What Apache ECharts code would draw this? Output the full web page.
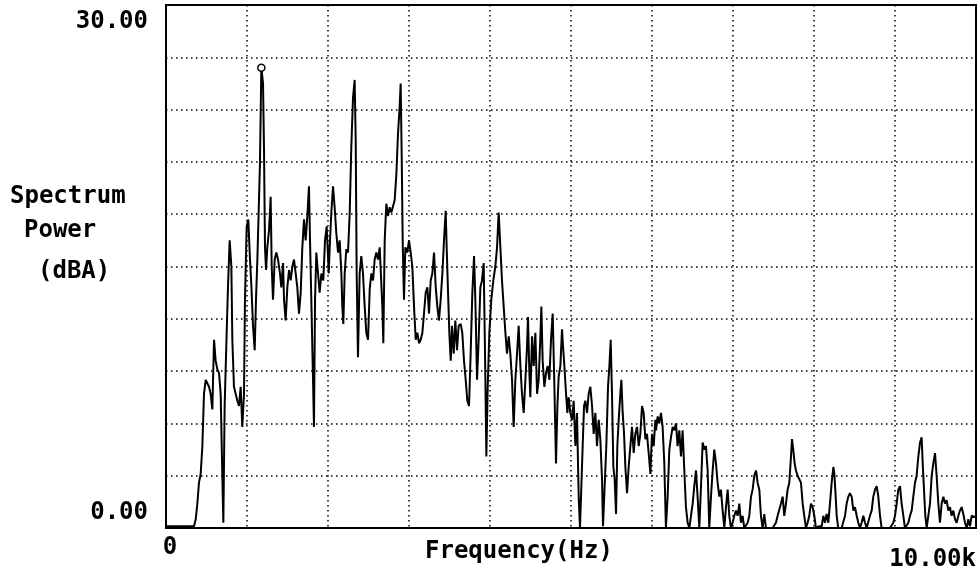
<!DOCTYPE html>
<html>
<head>
<meta charset="utf-8">
<script src="https://cdn.jsdelivr.net/npm/echarts@6/dist/echarts.min.js"></script>
<style>
html,body{margin:0;padding:0;background:#fff;}
#chart{width:978px;height:571px;}
</style>
</head>
<body>
<div id="chart"></div>
<script>
// Frequency (Hz) of each traced point
const freqHz = [
0,346,367,387,407,428,449,469,490,510,531,551,572,593,613,634,654,675,695,708,724,749,765,786,807,819,839,860,881,901,922,942,963,975,996,1016,1037,1053,1074,1095,1111,1128,1148,1160,1177,1198,1210,1222,1235,1251,1272,1292,1305,1321,1342,1362,1383,1407,1424,1445,1457,1477,1498,1519,1539,1560,1580,1601,1621,1642,1663,1683,1704,1724,1745,1765,1778,1794,1815,1827,1840,1856,1877,1897,1918,1942,1963,1984,2009,
2021,2041,2062,2082,2103,2124,2144,2165,2177,2189,2206,2226,2247,2268,2288,2309,2329,2342,2354,2370,2391,2411,2432,2453,2473,2494,2515,2535,2556,2576,2597,2617,2638,2658,2671,2683,2700,2720,2741,2761,2782,2803,2823,2844,2864,2885,2897,2910,2922,2938,2955,2979,3000,3021,3041,3062,3083,3103,3124,3144,3165,3185,3206,3227,3247,3268,3288,3309,3330,3350,3370,3391,3412,3432,3453,3465,3482,3498,3515,3531,3552,3572,3593,3613,3638,3658,3679,3700,3720,3741,3761,3782,3803,3819,3840,3860,3881,3901,3922,3942,3955,3972,3992,4016,4041,
4066,4087,4107,4128,4148,4169,4190,4210,4231,4251,4272,4292,4313,4334,4354,4375,4395,4416,4437,4457,4469,4486,4498,4519,4539,4560,4581,4601,4622,4634,4650,4671,4692,4712,4733,4753,4774,4795,4815,4832,4848,4869,4889,4902,4918,4939,4955,4971,4992,5013,5033,5054,5074,5095,5111,5128,5144,5161,5177,5198,5218,5239,5260,5280,5301,5321,5342,5362,5383,5395,5416,5436,5457,5474,5490,5506,5523,5539,5556,5572,5589,5609,5622,5638,5655,5671,5692,5712,5733,5753,5774,5794,5815,5836,5856,5877,5897,5918,5938,5959,5980,6000,6021,6041,
6049,6070,6090,6111,6131,6152,6172,6193,6214,6234,6255,6275,6296,6316,6337,6358,6378,6399,6419,6440,6461,6481,6502,6522,6543,6563,6584,6605,6625,6646,6666,6687,6707,6728,6749,6769,6790,6810,6831,6851,6872,6893,6913,6934,6954,6975,6995,7016,7037,7057,7078,7098,7119,7139,7160,7181,7201,7222,7242,7263,7284,7304,7325,7345,7366,7386,7407,7448,7489,7510,7530,7551,7572,7592,7613,7633,7654,7674,7695,7716,7728,7744,7761,7777,7798,7819,7839,7860,7880,7901,7921,7942,7962,7983,8004,8024,8065,
8095,8115,8136,8156,8177,8197,8218,8239,8251,8263,8280,8300,8341,8362,8383,8403,8424,8444,8465,8486,8506,8527,8547,8568,8588,8609,8630,8650,8671,8691,8712,8732,8753,8774,8794,8815,8835,8938,8959,8979,9000,9020,9041,9062,9082,9103,9123,9144,9165,9185,9206,9226,9247,9267,9288,9309,9329,9342,9358,9374,9391,9411,9432,9453,9473,9494,9514,9535,9555,9576,9597,9617,9638,9658,9679,9699,9720,9741,9761,9782,9802,9823,9843,9864,9885,9905,9926,9946,10000
];
// Spectrum power (dBA) at each traced point
const levelDb = [
0.1,0.1,0.5,1.4,2.6,3.1,4.7,7.7,8.5,8.4,8.1,7.7,6.8,10.8,9.6,9.1,8.9,7.7,3.1,0.3,7.0,11.2,13.8,16.5,15.0,10.8,8.1,7.7,7.3,7.0,8.1,5.8,7.7,13.1,17.3,17.7,15.4,14.0,11.6,10.2,13.1,15.4,15.4,20.9,26.4,25.5,21.7,16.1,14.8,16.1,17.1,19.0,15.0,13.1,15.4,15.8,15.4,14.6,13.8,15.2,13.1,11.9,13.8,14.8,14.2,15.0,15.4,14.6,13.8,12.3,13.5,16.1,17.7,16.5,17.9,19.6,16.5,13.1,8.5,5.8,13.1,15.8,14.6,13.5,14.6,14.2,16.5,17.3,14.6,
16.1,18.1,19.6,18.4,16.9,15.8,16.5,14.6,12.7,11.7,14.6,16.0,15.8,18.1,21.9,24.7,25.7,22.3,14.6,9.8,14.6,15.6,14.6,12.7,11.2,10.8,13.7,14.6,14.2,15.4,15.8,15.4,16.1,16.1,12.7,10.6,16.5,18.6,17.9,18.4,18.1,18.2,18.8,20.3,22.6,24.2,25.5,21.3,16.5,13.1,16.1,15.8,16.5,15.8,15.0,12.7,10.8,11.2,10.6,10.8,11.2,12.3,13.5,13.8,12.3,14.2,14.6,15.8,13.8,12.7,11.9,13.1,14.6,16.5,18.2,16.1,13.5,11.2,9.6,11.6,10.0,11.9,10.2,11.6,11.7,11.2,9.6,8.5,7.3,7.0,10.0,13.5,15.6,13.1,8.5,10.8,13.8,14.2,15.2,8.9,4.1,8.1,11.2,13.1,14.2,
15.0,16.1,18.1,16.1,14.2,12.7,11.2,10.0,11.0,10.0,8.5,5.8,8.5,10.0,11.6,9.3,7.7,6.6,8.5,10.4,12.1,8.9,7.5,11.0,9.3,11.2,7.7,8.5,11.0,12.7,9.6,8.1,8.9,9.3,8.5,10.8,12.3,8.1,3.7,7.0,8.7,9.3,11.4,10.4,9.3,7.7,6.6,7.5,6.6,6.2,7.3,4.7,6.6,1.8,0,0.1,4.7,7.0,7.3,6.6,7.7,8.1,7.0,5.4,6.6,4.7,6.2,5.1,2.8,0.1,0,4.7,8.1,9.3,10.8,7.7,3.5,2.8,0.8,4.7,6.2,7.7,8.5,6.6,5.4,3.5,2.0,3.5,4.7,5.8,4.3,5.4,5.8,4.7,5.4,7.0,6.6,5.1,5.4,4.3,3.1,5.4,4.7,6.2,
5.6,6.4,6.0,6.6,5.8,3.7,0,1.8,4.5,5.2,5.8,5.6,6.0,4.7,5.6,4.1,5.6,3.3,1.2,0.3,0,0.1,1.4,2.4,3.3,1.8,0,2.4,4.9,4.5,4.7,3.3,0,1.8,3.3,4.5,3.7,2.6,1.8,2.2,1.0,0,1.2,2.2,0.7,0,0.3,0.7,1.0,0.7,1.4,0.3,0.7,0,0,0.3,0.7,1.8,2.2,3.0,3.3,2.6,2.2,0.7,0,0.8,0,0,0,0.1,0.3,0.7,0.7,1.4,1.8,0.7,1.4,2.2,2.6,4.1,5.1,4.5,3.7,3.3,3.0,2.8,2.6,1.4,0.7,0,0.3,0.7,1.4,1.2,0.7,0,0.1,
0.1,0.7,0.3,0.8,0.3,1.4,2.6,3.5,3.1,2.2,0.7,0,0,0.1,0.7,1.4,1.8,2.0,1.8,1.0,1.2,0.7,0.3,0,0.3,0.7,0.3,0,0.1,0.7,1.0,1.8,2.2,2.4,1.8,0.7,0,0,0,0.3,0.7,1.4,2.2,2.4,1.4,0.7,0,0,0.3,0.7,1.0,1.8,2.6,3.0,4.1,4.9,5.2,3.7,2.2,0.7,0,0.7,1.4,3.0,3.7,4.3,3.0,1.4,0.3,1.4,1.8,1.4,1.6,1.0,1.2,0.7,1.0,0.5,0.3,0.7,1.0,1.2,0.8,0.3,0,0.5,0.1,0.7,0.6
];
const yTickLabels = {0: '0.00', 30: '30.00'};
const xTickLabels = {0: '0', 10000: '10.00k'};
const yTitleLines = ['Spectrum', 'Power', '(dBA)'];
const xTitle = 'Frequency(Hz)';

const FONT = 'DejaVu Sans Mono';
const fontBase = {fontFamily: FONT, fontWeight: 'bold', fontSize: 24, color: '#000'};

const chart = echarts.init(document.getElementById('chart'), null, {renderer: 'canvas'});
chart.setOption({
  animation: false,
  backgroundColor: '#fff',
  grid: {left: 166, right: 2, top: 5, bottom: 43, containLabel: false, outerBoundsMode: 'none',
         show: true, borderColor: '#000', borderWidth: 2, backgroundColor: 'transparent'},
  xAxis: {
    type: 'value', min: 0, max: 10000, interval: 1000,
    axisLine: {show: true, lineStyle: {color: '#000', width: 2}},
    axisTick: {show: false},
    splitLine: {show: true, lineStyle: {color: '#000', type: [1.5, 3.5], width: 1.5}},
    axisLabel: {
      show: true, margin: 8, showMinLabel: true, showMaxLabel: true,
      alignMaxLabel: 'right',
      formatter: v => v === 0 ? '{a|' + xTickLabels[0] + '}' : (v === 10000 ? '{b|' + xTickLabels[10000] + '}' : ''),
      rich: {
        a: Object.assign({}, fontBase, {padding: [0, 0, 0, 8]}),
        b: Object.assign({}, fontBase, {padding: [12, 0, 0, 0]})
      }
    }
  },
  yAxis: {
    type: 'value', min: 0, max: 30, interval: 3,
    axisLine: {show: true, lineStyle: {color: '#000', width: 2}},
    axisTick: {show: false},
    splitLine: {show: true, lineStyle: {color: '#000', type: [1.5, 3.5], width: 1.5}},
    axisLabel: {
      show: true, margin: 18, showMinLabel: true, showMaxLabel: true,
      formatter: v => v === 30 ? '{t|' + yTickLabels[30] + '}' : (v === 0 ? '{b|' + yTickLabels[0] + '}' : ''),
      rich: {
        t: Object.assign({}, fontBase, {padding: [34, 0, 0, 0]}),
        b: Object.assign({}, fontBase, {padding: [0, 0, 30, 0]})
      }
    }
  },
  graphic: [
    {type: 'text', left: 10, top: 185, style: {text: yTitleLines[0], fill: '#000', font: 'bold 24px ' + FONT}},
    {type: 'text', left: 24, top: 219, style: {text: yTitleLines[1], fill: '#000', font: 'bold 24px ' + FONT}},
    {type: 'text', left: 38, top: 260, style: {text: yTitleLines[2], fill: '#000', font: 'bold 24px ' + FONT}},
    {type: 'text', left: 425, top: 540, style: {text: xTitle, fill: '#000', font: 'bold 24px ' + FONT}}
  ],
  series: [{
    type: 'line',
    data: freqHz.map((f, i) => [f, levelDb[i]]),
    showSymbol: false,
    symbol: 'none',
    clip: true,
    lineStyle: {color: '#000', width: 2},
    markPoint: {
      data: [{type: 'max'}],
      symbol: 'circle', symbolSize: 7,
      itemStyle: {color: '#fff', borderColor: '#000', borderWidth: 1.5},
      label: {show: false}
    }
  }]
});
</script>
</body>
</html>
